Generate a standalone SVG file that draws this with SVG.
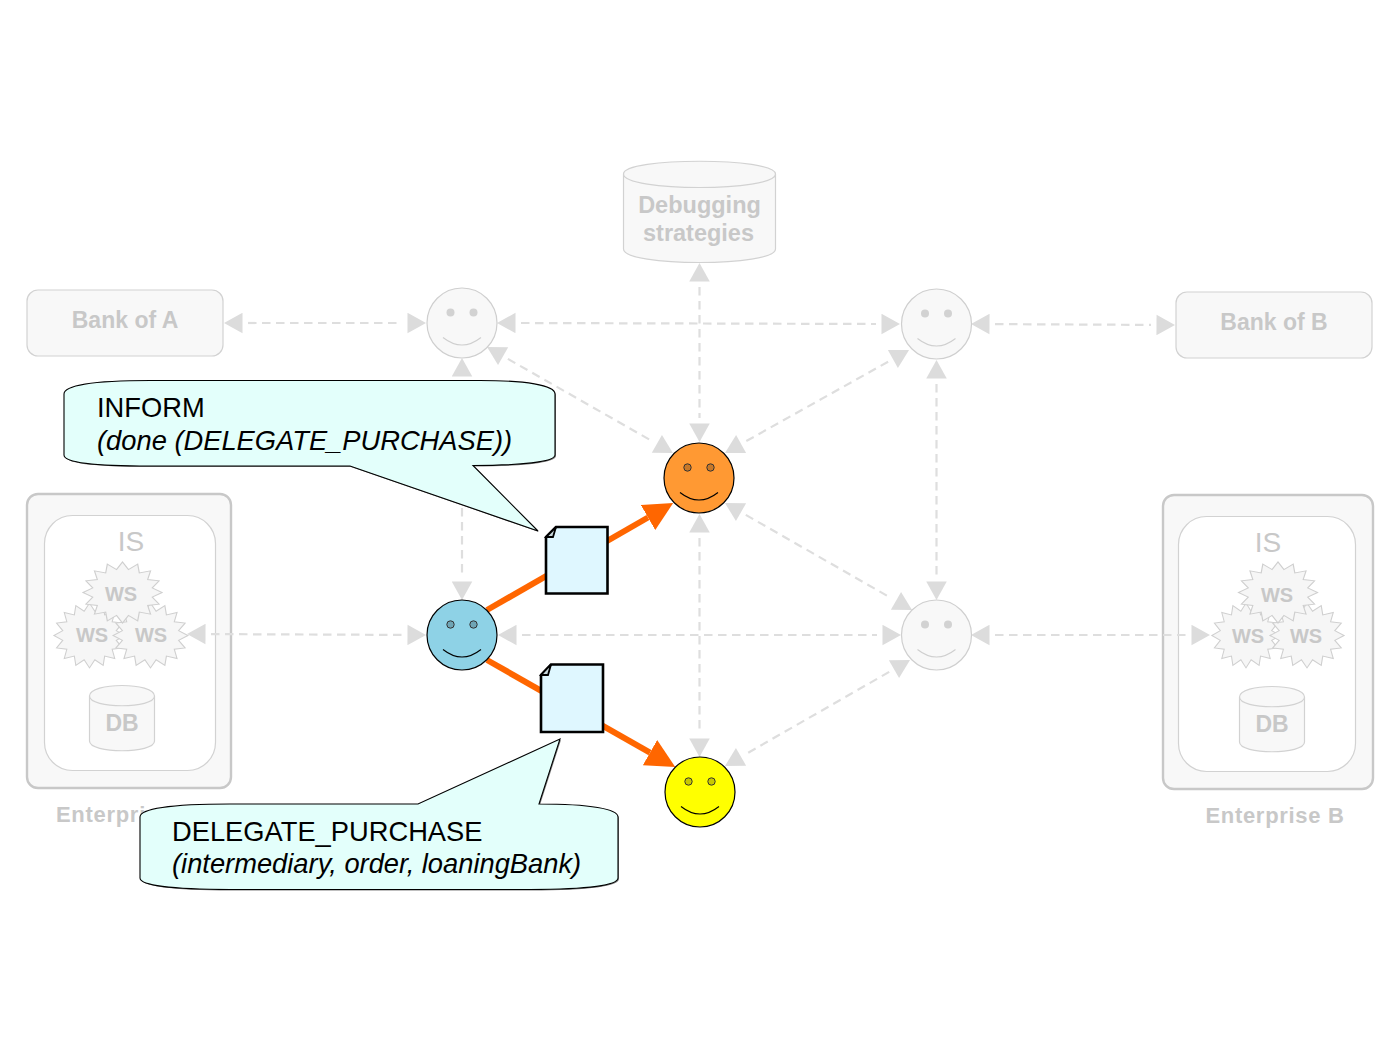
<svg xmlns="http://www.w3.org/2000/svg" width="1400" height="1050" viewBox="0 0 1400 1050">
<style>
text{font-family:"Liberation Sans",Arial,sans-serif}
.g{fill:#c8c8c8;font-weight:bold;text-anchor:middle}
.box{fill:#f8f8f8;stroke:#d2d2d2;stroke-width:1.2}
.ent{fill:#f8f8f8;stroke:#c8c8c8;stroke-width:2.4}
.is{fill:#fff;stroke:#d2d2d2;stroke-width:1.2}
.is-t{fill:#c8c8c8;font-size:28px;text-anchor:middle}
.star{fill:#f6f6f6;stroke:#cfcfcf;stroke-width:1.1}
.star polygon{vector-effect:non-scaling-stroke}
.dash{fill:none;stroke:#dedede;stroke-width:2.2;stroke-dasharray:8.500 5.500;marker-start:url(#ga);marker-end:url(#ga)}
.hot{fill:none;stroke:#ff6600;stroke-width:6}
.mouth{fill:none;stroke-width:1.1}
.ghost .f{fill:#f8f8f8;stroke:#cfcfcf;stroke-width:1.2}
.ghost .e{fill:#d2d2d2}
.ghost .mouth{stroke:#cfcfcf}
.live .f{stroke:#000;stroke-width:1.2}
.live .e{stroke:#333;stroke-width:1}
.live .mouth{stroke:#000}
.doc{fill:#dff7ff;stroke:#000;stroke-width:2.6}
.fold{fill:#c8d8dc;stroke:#000;stroke-width:1.8}
.call{fill:#e3fffb;stroke:#000;stroke-width:1.1}
.shadow{fill:#808080}
.t{font-size:27.300px;fill:#000}
.i{font-style:italic}
</style>
<defs>
<marker id="ga" viewBox="-6 0 25 21" refX="-5.500" refY="10.500" markerWidth="25" markerHeight="21" markerUnits="userSpaceOnUse" orient="auto-start-reverse"><path d="M0 0.250L18.500 10.500L0 20.750Z" fill="#dcdcdc"/></marker>
<marker id="oa" viewBox="0 0 29 29" refX="0" refY="14.500" markerWidth="29" markerHeight="29" markerUnits="userSpaceOnUse" orient="auto"><path d="M0 0L29 14.500L0 29Z" fill="#ff6600"/></marker>
<polygon id="star" points="36,0 27,5.400 33.300,13.800 22.900,15.300 25.500,25.500 15.300,22.900 13.800,33.300 5.400,27 0,36 -5.400,27 -13.800,33.300 -15.300,22.900 -25.500,25.500 -22.900,15.300 -33.300,13.800 -27,5.400 -36,0 -27,-5.400 -33.300,-13.800 -22.900,-15.300 -25.500,-25.500 -15.300,-22.900 -13.800,-33.300 -5.400,-27 0,-36 5.400,-27 13.800,-33.300 15.300,-22.900 25.500,-25.500 22.900,-15.300 33.300,-13.800 27,-5.400"/>
<path id="inform-shape" d="M64 394C64 386 90 380.500 150 380.500H480C525 380.500 555 385 555 394V455C555 462 520 465.500 473 465.500L538 531L350 466H150C90 466 64 462 64 455Z"/>
<path id="delegate-shape" d="M140 817C140 809 170 804 230 804H418L560 739L539 804C590 804 618 809 618 817V878C618 885 590 889.500 530 889.500H230C170 889.500 140 885 140 878Z"/>
</defs>
<rect width="1400" height="1050" fill="#fff"/>

<g id="enterprise-a">
<rect class="ent" x="27" y="494" width="204" height="294" rx="11"/>
<rect class="is" x="44.500" y="515.500" width="171" height="255" rx="28"/>
<text class="is-t" x="131" y="551">IS</text>
<use class="star" href="#star" transform="translate(89.500 635.500) scale(.99 .9)"/>
<use class="star" href="#star" transform="translate(150.500 635.500) scale(1.04 .9)"/>
<use class="star" href="#star" transform="translate(122.500 592.500) scale(1.1 .85)"/>
<text class="g" x="121" y="601" font-size="20">WS</text>
<text class="g" x="92" y="642" font-size="20">WS</text>
<text class="g" x="151" y="642" font-size="20">WS</text>
<path class="box" d="M89.500 696V741C89.500 754 154.500 754 154.500 741V696C154.500 682 89.500 682 89.500 696C89.500 709 154.500 709 154.500 696"/>
<text class="g" x="122" y="731" font-size="23">DB</text>
<text class="g" x="56" y="822" font-size="22" style="text-anchor:start" letter-spacing=".7">Enterpri</text>
</g>

<g id="enterprise-b">
<rect class="ent" x="1163" y="495" width="210" height="294" rx="11"/>
<rect class="is" x="1178.500" y="516.500" width="177" height="255" rx="28"/>
<text class="is-t" x="1268" y="552">IS</text>
<use class="star" href="#star" transform="translate(1246 635.500) scale(.95 .9)"/>
<use class="star" href="#star" transform="translate(1307 635.500) scale(1.03 .9)"/>
<use class="star" href="#star" transform="translate(1278 592.500) scale(1.1 .85)"/>
<text class="g" x="1277" y="602" font-size="20">WS</text>
<text class="g" x="1248" y="643" font-size="20">WS</text>
<text class="g" x="1306" y="643" font-size="20">WS</text>
<path class="box" d="M1239.500 697V742C1239.500 755 1304.500 755 1304.500 742V697C1304.500 683 1239.500 683 1239.500 697C1239.500 710 1304.500 710 1304.500 697"/>
<text class="g" x="1272" y="732" font-size="23">DB</text>
<text class="g" x="1275" y="823" font-size="22" letter-spacing=".7">Enterprise B</text>
</g>

<g id="connectors">
<path class="dash" d="M248 323L402 323"/>
<path class="dash" d="M521 323L876 324"/>
<path class="dash" d="M995 324.100L1151 324.900"/>
<path class="dash" d="M699.500 287L699.500 418"/>
<path class="dash" d="M507.900 358.900L652.100 441.100"/>
<path class="dash" d="M888.100 361.700L745.900 441.300"/>
<path class="dash" d="M936.500 384L936.500 576"/>
<path class="dash" d="M462 382L462 576"/>
<path class="dash" d="M211 634.100L402 634.900"/>
<path class="dash" d="M522 635L877 635"/>
<path class="dash" d="M995 635L1186 635"/>
<path class="dash" d="M699.500 538L699.500 733"/>
<path class="dash" d="M745.800 514.900L891.200 598.100"/>
<path class="dash" d="M889.200 671.900L745.800 754.100"/>
<path class="hot" marker-end="url(#oa)" d="M487 610L648 517.500"/>
<path class="hot" marker-end="url(#oa)" d="M487 660L650 752.600"/>
</g>

<g id="bank-a"><rect class="box" x="27" y="290" width="196" height="66" rx="11"/><text class="g" x="125" y="328" font-size="23">Bank of A</text></g>
<g id="bank-b"><rect class="box" x="1176" y="292" width="196" height="66" rx="11"/><text class="g" x="1274" y="330" font-size="23">Bank of B</text></g>
<g id="debugging">
<path class="box" d="M623.500 174V249C623.500 267 775.500 267 775.500 249V174C775.500 157 623.500 157 623.500 174C623.500 192 775.500 192 775.500 174"/>
<text class="g" x="699.500" y="213" font-size="23.500">Debugging</text>
<text class="g" x="698.500" y="241" font-size="23.500">strategies</text>
</g>

<g id="agent-nw" class="ghost" transform="translate(462 323)"><circle class="f" r="35"/><circle class="e" cx="-11.500" cy="-10.500" r="4"/><circle class="e" cx="11.500" cy="-10.500" r="4"/><path class="mouth" d="M-19 14.500Q0 29.500 19 14.500"/></g>
<g id="agent-ne" class="ghost" transform="translate(936.500 324)"><circle class="f" r="35"/><circle class="e" cx="-11.500" cy="-10.500" r="4"/><circle class="e" cx="11.500" cy="-10.500" r="4"/><path class="mouth" d="M-19 14.500Q0 29.500 19 14.500"/></g>
<g id="agent-se" class="ghost" transform="translate(936.500 635)"><circle class="f" r="35"/><circle class="e" cx="-11.500" cy="-10.500" r="4"/><circle class="e" cx="11.500" cy="-10.500" r="4"/><path class="mouth" d="M-19 14.500Q0 29.500 19 14.500"/></g>
<g id="agent-blue" class="live" transform="translate(462 635)"><circle class="f" r="35" fill="#8ed2e6"/><circle class="e" cx="-11.500" cy="-10.500" r="3.700" fill="#6fa5b5"/><circle class="e" cx="11.500" cy="-10.500" r="3.700" fill="#6fa5b5"/><path class="mouth" d="M-19 14.500Q0 29.500 19 14.500"/></g>
<g id="agent-orange" class="live" transform="translate(699 478)"><circle class="f" r="35" fill="#ff9933"/><circle class="e" cx="-11.500" cy="-10.500" r="3.700" fill="#c87828"/><circle class="e" cx="11.500" cy="-10.500" r="3.700" fill="#c87828"/><path class="mouth" d="M-19 14.500Q0 29.500 19 14.500"/></g>
<g id="agent-yellow" class="live" transform="translate(700 792)"><circle class="f" r="35" fill="#ffff00"/><circle class="e" cx="-11.500" cy="-10.500" r="3.700" fill="#c8c800"/><circle class="e" cx="11.500" cy="-10.500" r="3.700" fill="#c8c800"/><path class="mouth" d="M-19 14.500Q0 29.500 19 14.500"/></g>

<g id="doc-inform"><path class="doc" d="M556 527H607.500V593.500H546V537Z"/><path class="fold" d="M556 527L553 537L546 537Z"/></g>
<g id="doc-delegate"><path class="doc" d="M551 664.500H603V732H541V675Z"/><path class="fold" d="M551 664.500L548 675L541 675Z"/></g>

<g id="callout-inform">
<use class="shadow" href="#inform-shape" transform="translate(1 1)"/>
<use class="call" href="#inform-shape"/>
<text class="t" x="97" y="417">INFORM</text>
<text class="t i" x="97" y="450">(done (DELEGATE_PURCHASE))</text>
</g>
<g id="callout-delegate">
<use class="shadow" href="#delegate-shape" transform="translate(1 1)"/>
<use class="call" href="#delegate-shape"/>
<text class="t" x="172" y="841">DELEGATE_PURCHASE</text>
<text class="t i" x="172" y="873">(intermediary, order, loaningBank)</text>
</g>
</svg>
